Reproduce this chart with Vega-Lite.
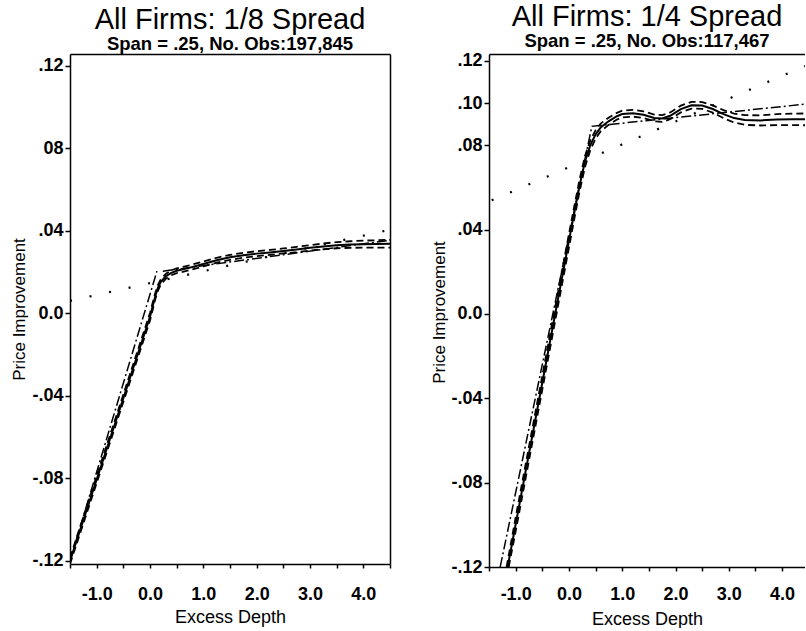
{
  "$schema": "https://vega.github.io/schema/vega-lite/v6.json",
  "padding": {"left": 10, "top": 3, "right": 0, "bottom": 0},
  "background": "white",
  "config": {
    "view": {"stroke": null},
    "font": "Liberation Sans",
    "axis": {"domainColor": "black", "domainWidth": 1.5, "tickColor": "black", "tickWidth": 1.5, "labelColor": "black", "titleColor": "black", "grid": false, "labelFont": "Liberation Sans", "titleFont": "Liberation Sans", "labelFontSize": 18, "labelFontWeight": "bold", "titleFontSize": 18, "titleFontWeight": "normal", "labelOverlap": false, "labelFlush": false}
  },
  "datasets": {
    "left": [
      {"x": -1.5, "y": -0.12, "s": "fit"}, {"x": -1.0, "y": -0.0805, "s": "fit"}, {"x": -0.5, "y": -0.0411, "s": "fit"}, {"x": 0.0, "y": -0.0016, "s": "fit"}, {"x": 0.05, "y": 0.0035, "s": "fit"}, {"x": 0.1, "y": 0.0085, "s": "fit"}, {"x": 0.15, "y": 0.0125, "s": "fit"}, {"x": 0.2, "y": 0.0152, "s": "fit"}, {"x": 0.3, "y": 0.0181, "s": "fit"}, {"x": 0.4, "y": 0.0197, "s": "fit"}, {"x": 0.5, "y": 0.0207, "s": "fit"}, {"x": 0.75, "y": 0.0222, "s": "fit"}, {"x": 1.0, "y": 0.024, "s": "fit"}, {"x": 1.25, "y": 0.0258, "s": "fit"}, {"x": 1.5, "y": 0.0272, "s": "fit"}, {"x": 1.75, "y": 0.0282, "s": "fit"}, {"x": 2.0, "y": 0.029, "s": "fit"}, {"x": 2.25, "y": 0.0296, "s": "fit"}, {"x": 2.5, "y": 0.0303, "s": "fit"}, {"x": 2.75, "y": 0.031, "s": "fit"}, {"x": 3.0, "y": 0.0318, "s": "fit"}, {"x": 3.25, "y": 0.0325, "s": "fit"}, {"x": 3.5, "y": 0.0331, "s": "fit"}, {"x": 3.75, "y": 0.0334, "s": "fit"}, {"x": 4.0, "y": 0.0336, "s": "fit"}, {"x": 4.25, "y": 0.0337, "s": "fit"}, {"x": 4.5, "y": 0.0338, "s": "fit"},
      {"x": -1.5, "y": -0.1185, "s": "upper"}, {"x": -1.0, "y": -0.0788, "s": "upper"}, {"x": -0.5, "y": -0.0393, "s": "upper"}, {"x": 0.0, "y": 0.0002, "s": "upper"}, {"x": 0.05, "y": 0.0052, "s": "upper"}, {"x": 0.1, "y": 0.01, "s": "upper"}, {"x": 0.15, "y": 0.0139, "s": "upper"}, {"x": 0.2, "y": 0.0165, "s": "upper"}, {"x": 0.3, "y": 0.0193, "s": "upper"}, {"x": 0.4, "y": 0.0209, "s": "upper"}, {"x": 0.5, "y": 0.0219, "s": "upper"}, {"x": 0.75, "y": 0.0234, "s": "upper"}, {"x": 1.0, "y": 0.0252, "s": "upper"}, {"x": 1.25, "y": 0.027, "s": "upper"}, {"x": 1.5, "y": 0.0284, "s": "upper"}, {"x": 1.75, "y": 0.0294, "s": "upper"}, {"x": 2.0, "y": 0.0302, "s": "upper"}, {"x": 2.25, "y": 0.0308, "s": "upper"}, {"x": 2.5, "y": 0.0315, "s": "upper"}, {"x": 2.75, "y": 0.0323, "s": "upper"}, {"x": 3.0, "y": 0.0331, "s": "upper"}, {"x": 3.25, "y": 0.0339, "s": "upper"}, {"x": 3.5, "y": 0.0346, "s": "upper"}, {"x": 3.75, "y": 0.035, "s": "upper"}, {"x": 4.0, "y": 0.0353, "s": "upper"}, {"x": 4.25, "y": 0.0355, "s": "upper"}, {"x": 4.5, "y": 0.0357, "s": "upper"},
      {"x": -1.5, "y": -0.1215, "s": "lower"}, {"x": -1.0, "y": -0.0822, "s": "lower"}, {"x": -0.5, "y": -0.0429, "s": "lower"}, {"x": 0.0, "y": -0.0034, "s": "lower"}, {"x": 0.05, "y": 0.0018, "s": "lower"}, {"x": 0.1, "y": 0.007, "s": "lower"}, {"x": 0.15, "y": 0.0111, "s": "lower"}, {"x": 0.2, "y": 0.0139, "s": "lower"}, {"x": 0.3, "y": 0.0169, "s": "lower"}, {"x": 0.4, "y": 0.0185, "s": "lower"}, {"x": 0.5, "y": 0.0195, "s": "lower"}, {"x": 0.75, "y": 0.021, "s": "lower"}, {"x": 1.0, "y": 0.0228, "s": "lower"}, {"x": 1.25, "y": 0.0246, "s": "lower"}, {"x": 1.5, "y": 0.026, "s": "lower"}, {"x": 1.75, "y": 0.027, "s": "lower"}, {"x": 2.0, "y": 0.0278, "s": "lower"}, {"x": 2.25, "y": 0.0284, "s": "lower"}, {"x": 2.5, "y": 0.0291, "s": "lower"}, {"x": 2.75, "y": 0.0297, "s": "lower"}, {"x": 3.0, "y": 0.0305, "s": "lower"}, {"x": 3.25, "y": 0.0311, "s": "lower"}, {"x": 3.5, "y": 0.0316, "s": "lower"}, {"x": 3.75, "y": 0.0318, "s": "lower"}, {"x": 4.0, "y": 0.0319, "s": "lower"}, {"x": 4.25, "y": 0.0319, "s": "lower"}, {"x": 4.5, "y": 0.0319, "s": "lower"},
      {"x": -1.5, "y": -0.12, "s": "pw1"}, {"x": 0.13, "y": 0.0205, "s": "pw1"},
      {"x": 0.24, "y": 0.0205, "s": "pw2"}, {"x": 4.5, "y": 0.0355, "s": "pw2"},
      {"x": -1.5, "y": 0.0061, "s": "linear"}, {"x": 4.5, "y": 0.0406, "s": "linear"}
    ],
    "right": [
      {"x": -1.15, "y": -0.12, "s": "fit"}, {"x": -1.0, "y": -0.0998, "s": "fit"}, {"x": -0.5, "y": -0.0326, "s": "fit"}, {"x": 0.0, "y": 0.0347, "s": "fit"}, {"x": 0.1, "y": 0.048, "s": "fit"}, {"x": 0.2, "y": 0.061, "s": "fit"}, {"x": 0.3, "y": 0.0722, "s": "fit"}, {"x": 0.4, "y": 0.08, "s": "fit"}, {"x": 0.5, "y": 0.0852, "s": "fit"}, {"x": 0.6, "y": 0.0886, "s": "fit"}, {"x": 0.75, "y": 0.0915, "s": "fit"}, {"x": 0.9, "y": 0.0938, "s": "fit"}, {"x": 1.0, "y": 0.0948, "s": "fit"}, {"x": 1.2, "y": 0.0952, "s": "fit"}, {"x": 1.4, "y": 0.0945, "s": "fit"}, {"x": 1.6, "y": 0.093, "s": "fit"}, {"x": 1.75, "y": 0.0927, "s": "fit"}, {"x": 1.9, "y": 0.094, "s": "fit"}, {"x": 2.1, "y": 0.0972, "s": "fit"}, {"x": 2.3, "y": 0.099, "s": "fit"}, {"x": 2.5, "y": 0.0989, "s": "fit"}, {"x": 2.7, "y": 0.0972, "s": "fit"}, {"x": 2.9, "y": 0.0948, "s": "fit"}, {"x": 3.1, "y": 0.0929, "s": "fit"}, {"x": 3.3, "y": 0.092, "s": "fit"}, {"x": 3.6, "y": 0.0918, "s": "fit"}, {"x": 3.9, "y": 0.0922, "s": "fit"}, {"x": 4.2, "y": 0.0923, "s": "fit"}, {"x": 4.43, "y": 0.0923, "s": "fit"},
      {"x": -1.17, "y": -0.12, "s": "upper"}, {"x": -1.0, "y": -0.0965, "s": "upper"}, {"x": -0.5, "y": -0.0293, "s": "upper"}, {"x": 0.0, "y": 0.0379, "s": "upper"}, {"x": 0.1, "y": 0.051, "s": "upper"}, {"x": 0.2, "y": 0.0638, "s": "upper"}, {"x": 0.3, "y": 0.0748, "s": "upper"}, {"x": 0.4, "y": 0.0823, "s": "upper"}, {"x": 0.5, "y": 0.0872, "s": "upper"}, {"x": 0.6, "y": 0.0904, "s": "upper"}, {"x": 0.75, "y": 0.0932, "s": "upper"}, {"x": 0.9, "y": 0.0954, "s": "upper"}, {"x": 1.0, "y": 0.0964, "s": "upper"}, {"x": 1.2, "y": 0.0968, "s": "upper"}, {"x": 1.4, "y": 0.0961, "s": "upper"}, {"x": 1.6, "y": 0.0946, "s": "upper"}, {"x": 1.75, "y": 0.0943, "s": "upper"}, {"x": 1.9, "y": 0.0956, "s": "upper"}, {"x": 2.1, "y": 0.0988, "s": "upper"}, {"x": 2.3, "y": 0.1006, "s": "upper"}, {"x": 2.5, "y": 0.1005, "s": "upper"}, {"x": 2.7, "y": 0.0989, "s": "upper"}, {"x": 2.9, "y": 0.0967, "s": "upper"}, {"x": 3.1, "y": 0.095, "s": "upper"}, {"x": 3.3, "y": 0.0943, "s": "upper"}, {"x": 3.6, "y": 0.0942, "s": "upper"}, {"x": 3.9, "y": 0.0948, "s": "upper"}, {"x": 4.2, "y": 0.095, "s": "upper"}, {"x": 4.43, "y": 0.0951, "s": "upper"},
      {"x": -1.13, "y": -0.12, "s": "lower"}, {"x": -1.0, "y": -0.1031, "s": "lower"}, {"x": -0.5, "y": -0.0359, "s": "lower"}, {"x": 0.0, "y": 0.0315, "s": "lower"}, {"x": 0.1, "y": 0.045, "s": "lower"}, {"x": 0.2, "y": 0.0582, "s": "lower"}, {"x": 0.3, "y": 0.0696, "s": "lower"}, {"x": 0.4, "y": 0.0777, "s": "lower"}, {"x": 0.5, "y": 0.0832, "s": "lower"}, {"x": 0.6, "y": 0.0868, "s": "lower"}, {"x": 0.75, "y": 0.0898, "s": "lower"}, {"x": 0.9, "y": 0.0922, "s": "lower"}, {"x": 1.0, "y": 0.0932, "s": "lower"}, {"x": 1.2, "y": 0.0936, "s": "lower"}, {"x": 1.4, "y": 0.0929, "s": "lower"}, {"x": 1.6, "y": 0.0914, "s": "lower"}, {"x": 1.75, "y": 0.0911, "s": "lower"}, {"x": 1.9, "y": 0.0924, "s": "lower"}, {"x": 2.1, "y": 0.0956, "s": "lower"}, {"x": 2.3, "y": 0.0974, "s": "lower"}, {"x": 2.5, "y": 0.0973, "s": "lower"}, {"x": 2.7, "y": 0.0955, "s": "lower"}, {"x": 2.9, "y": 0.0929, "s": "lower"}, {"x": 3.1, "y": 0.0908, "s": "lower"}, {"x": 3.3, "y": 0.0897, "s": "lower"}, {"x": 3.6, "y": 0.0894, "s": "lower"}, {"x": 3.9, "y": 0.0896, "s": "lower"}, {"x": 4.2, "y": 0.0896, "s": "lower"}, {"x": 4.43, "y": 0.0895, "s": "lower"},
      {"x": -1.29, "y": -0.12, "s": "pw1"}, {"x": 0.43, "y": 0.089, "s": "pw1"}, {"x": 4.43, "y": 0.0995, "s": "pw1"},
      {"x": -1.45, "y": 0.0539, "s": "linear"}, {"x": 4.43, "y": 0.1176, "s": "linear"}
    ]
  },
  "spacing": 99,
  "bounds": "flush",
  "hconcat": [
    {
      "width": 320,
      "height": 510,
      "title": {"text": "All Firms: 1/8 Spread", "subtitle": "Span = .25, No. Obs:197,845", "fontSize": 29, "fontWeight": "normal", "subtitleFontSize": 18.5, "subtitleFontWeight": "bold", "color": "black", "subtitleColor": "black", "font": "Liberation Sans", "subtitleFont": "Liberation Sans", "anchor": "middle", "offset": 1, "subtitlePadding": 0},
      "data": {"name": "left"},
      "encoding": {
        "x": {"field": "x", "type": "quantitative", "scale": {"domain": [-1.5, 4.5], "nice": false, "zero": false}, "axis": null},
        "y": {"field": "y", "type": "quantitative", "scale": {"domain": [-0.1215, 0.1258], "nice": false, "zero": false}, "axis": null}
      },
      "layer": [
        {
          "transform": [{"filter": "datum.s == 'fit'"}],
          "mark": {"type": "line", "color": "black", "strokeWidth": 2, "clip": true},
          "encoding": {
            "x": {"field": "x", "type": "quantitative", "scale": {"domain": [-1.5, 4.5], "nice": false, "zero": false}, "axis": {"orient": "bottom", "values": [-1.5, -1, -0.5, 0, 0.5, 1, 1.5, 2, 2.5, 3, 3.5, 4, 4.5], "labelExpr": "datum.value % 1 == 0 ? ((datum.value < 0 ? '-' : '') + abs(datum.value) + '.0') : ''", "tickSize": 4, "labelPadding": 17, "title": "Excess Depth", "titleY": 58, "titleBaseline": "alphabetic"}},
            "y": {"field": "y", "type": "quantitative", "scale": {"domain": [-0.1215, 0.1258], "nice": false, "zero": false}, "axis": {"orient": "left", "values": [-0.12, -0.08, -0.04, 0, 0.04, 0.08, 0.12], "labelExpr": "datum.value == 0 ? '0.0' : (datum.value > 0.07 && datum.value < 0.09) ? '08' : ((datum.value < 0 ? '-' : '') + '.' + format(abs(datum.value) * 100, '02d'))", "tickSize": 5, "labelPadding": 2, "title": "Price Improvement", "titleFontSize": 17, "titleX": -51, "titleY": 255, "titleBaseline": "middle", "titleAlign": "center"}}
          }
        },
        {
          "transform": [{"filter": "datum.s == 'linear'"}],
          "mark": {"type": "line", "color": "black", "strokeWidth": 2.2, "strokeDash": [2, 18], "strokeCap": "butt", "clip": true},
          "encoding": {
            "x": {"field": "x", "type": "quantitative", "scale": {"domain": [-1.5, 4.5], "nice": false, "zero": false}, "axis": {"orient": "top", "domain": true, "ticks": false, "labels": false, "title": null}},
            "y": {"field": "y", "type": "quantitative", "scale": {"domain": [-0.1215, 0.1258], "nice": false, "zero": false}, "axis": {"orient": "right", "domain": true, "ticks": false, "labels": false, "title": null}}
          }
        },
        {
          "transform": [{"filter": "datum.s == 'upper' || datum.s == 'lower'"}],
          "mark": {"type": "line", "color": "black", "strokeWidth": 1.8, "strokeDash": [7, 4], "clip": true},
          "encoding": {"detail": {"field": "s", "type": "nominal"}}
        },
        {
          "transform": [{"filter": "datum.s == 'pw1' || datum.s == 'pw2'"}],
          "mark": {"type": "line", "color": "black", "strokeWidth": 1.5, "strokeDash": [10, 3, 2, 3], "clip": true},
          "encoding": {"detail": {"field": "s", "type": "nominal"}}
        }
      ],
      "resolve": {"axis": {"x": "independent", "y": "independent"}}
    },
    {
      "width": 316,
      "height": 513,
      "title": {"text": "All Firms: 1/4 Spread", "subtitle": "Span = .25, No. Obs:117,467", "fontSize": 29, "fontWeight": "normal", "subtitleFontSize": 18.5, "subtitleFontWeight": "bold", "color": "black", "subtitleColor": "black", "font": "Liberation Sans", "subtitleFont": "Liberation Sans", "anchor": "middle", "offset": 1, "subtitlePadding": 0},
      "data": {"name": "right"},
      "encoding": {
        "x": {"field": "x", "type": "quantitative", "scale": {"domain": [-1.5, 4.43], "nice": false, "zero": false}, "axis": null},
        "y": {"field": "y", "type": "quantitative", "scale": {"domain": [-0.12, 0.1233], "nice": false, "zero": false}, "axis": null}
      },
      "layer": [
        {
          "transform": [{"filter": "datum.s == 'fit'"}],
          "mark": {"type": "line", "color": "black", "strokeWidth": 2, "clip": true},
          "encoding": {
            "x": {"field": "x", "type": "quantitative", "scale": {"domain": [-1.5, 4.43], "nice": false, "zero": false}, "axis": {"orient": "bottom", "values": [-1.5, -1, -0.5, 0, 0.5, 1, 1.5, 2, 2.5, 3, 3.5, 4], "labelExpr": "datum.value % 1 == 0 ? ((datum.value < 0 ? '-' : '') + abs(datum.value) + '.0') : ''", "tickSize": 4, "labelPadding": 14, "title": "Excess Depth", "titleY": 57, "titleBaseline": "alphabetic"}},
            "y": {"field": "y", "type": "quantitative", "scale": {"domain": [-0.12, 0.1233], "nice": false, "zero": false}, "axis": {"orient": "left", "values": [-0.12, -0.08, -0.04, 0, 0.04, 0.08, 0.1, 0.12], "labelExpr": "datum.value == 0 ? '0.0' : ((datum.value < 0 ? '-' : '') + '.' + format(abs(datum.value) * 100, '02d'))", "tickSize": 5, "labelPadding": 2, "title": "Price Improvement", "titleFontSize": 17, "titleX": -50, "titleY": 258, "titleBaseline": "middle", "titleAlign": "center"}}
          }
        },
        {
          "transform": [{"filter": "datum.s == 'linear'"}],
          "mark": {"type": "line", "color": "black", "strokeWidth": 2.2, "strokeDash": [2, 18], "strokeCap": "butt", "clip": true},
          "encoding": {
            "x": {"field": "x", "type": "quantitative", "scale": {"domain": [-1.5, 4.43], "nice": false, "zero": false}, "axis": {"orient": "top", "domain": true, "ticks": false, "labels": false, "title": null}},
            "y": {"field": "y", "type": "quantitative", "scale": {"domain": [-0.12, 0.1233], "nice": false, "zero": false}, "axis": null}
          }
        },
        {
          "transform": [{"filter": "datum.s == 'upper' || datum.s == 'lower'"}],
          "mark": {"type": "line", "color": "black", "strokeWidth": 1.8, "strokeDash": [7, 4], "clip": true},
          "encoding": {"detail": {"field": "s", "type": "nominal"}}
        },
        {
          "transform": [{"filter": "datum.s == 'pw1'"}],
          "mark": {"type": "line", "color": "black", "strokeWidth": 1.5, "strokeDash": [10, 3, 2, 3], "clip": true},
          "encoding": {}
        }
      ],
      "resolve": {"axis": {"x": "independent", "y": "independent"}}
    }
  ]
}
